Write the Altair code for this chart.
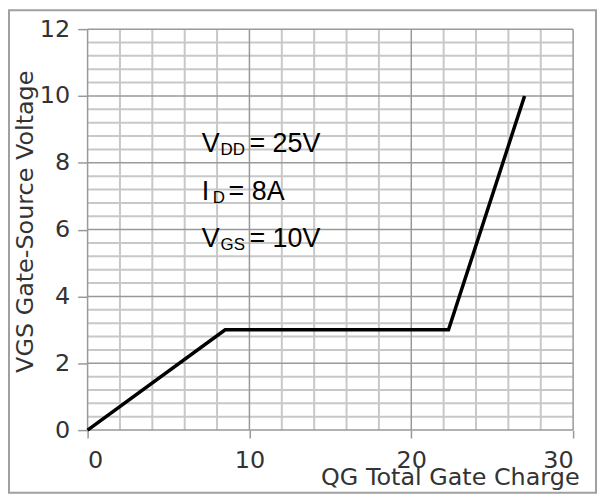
import altair as alt
import pandas as pd

# Curve data (gate charge nC, gate-source voltage V)
qg = [0, 8.5, 22.3, 27.0]
vgs = [0, 3, 3, 10]

# Axis ticks
x_ticks = [0, 10, 20, 30]
y_ticks = [0, 2, 4, 6, 8, 10, 12]

# Grid lines
x_minor = [v for v in range(0, 31, 2) if v % 10 != 0]
y_minor = [round(i * 0.4, 1) for i in range(0, 31) if i % 5 != 0]

# Annotation text pieces
ann_x = 7.05
ann_y = [8.31, 6.88, 5.48]
ann_main = ["V", "I", "V"]
ann_sub = ["DD", "D", "GS"]
ann_rest = ["= 25V", "= 8A", "= 10V"]

W, H = 488, 403
FONT = "DejaVu Sans"
TFONT = "Liberation Sans"

xs = alt.Scale(domain=[0, 30], nice=False, zero=False)
ys = alt.Scale(domain=[0, 12], nice=False, zero=False)

xaxis = alt.Axis(values=x_ticks, grid=False, domain=False, tickSize=8, tickColor="#999999",
                 tickWidth=1.5, labelFont=FONT, labelFontSize=24, labelColor="#333333",
                 labelPadding=11,
                 title="QG Total Gate Charge", titleFont=FONT, titleFontSize=24,
                 titleFontWeight="normal", titleColor="#333333",
                 titleX=494, titleY=55, titleAlign="right", titleBaseline="alphabetic")
yaxis = alt.Axis(values=y_ticks, grid=False, domain=False, tickSize=10, tickColor="#999999",
                 tickWidth=1.5, labelFont=FONT, labelFontSize=24, labelColor="#333333",
                 labelPadding=8,
                 title="VGS   Gate-Source Voltage", titleFont=FONT, titleFontSize=24,
                 titleFontWeight="normal", titleColor="#333333",
                 titleX=-55, titleY=345, titleAlign="left", titleAngle=270,
                 titleBaseline="alphabetic")

def X(field):
    return alt.X(field, type="quantitative", scale=xs, axis=xaxis)

def Y(field):
    return alt.Y(field, type="quantitative", scale=ys, axis=yaxis)

vminor = alt.Chart(pd.DataFrame({"v": x_minor})).mark_rule(color="#c8c8c8", strokeWidth=2).encode(x=X("v"))
hminor = alt.Chart(pd.DataFrame({"v": y_minor})).mark_rule(color="#c8c8c8", strokeWidth=2).encode(y=Y("v"))
vmajor = alt.Chart(pd.DataFrame({"v": x_ticks})).mark_rule(color="#999999", strokeWidth=1.5).encode(x=X("v"))
hmajor = alt.Chart(pd.DataFrame({"v": y_ticks})).mark_rule(color="#999999", strokeWidth=1.5).encode(y=Y("v"))

curve = alt.Chart(pd.DataFrame({"q": qg, "v": vgs})).mark_line(
    color="black", strokeWidth=3.5, strokeJoin="miter").encode(x=X("q"), y=Y("v"))

ann_df = pd.DataFrame({"x": [ann_x] * 3, "y": ann_y, "main": ann_main,
                       "sub": ann_sub, "rest": ann_rest})
sub_dx = [19, 11, 19]
rest_dx = [48, 27, 48]
texts = []
for i in range(3):
    row = ann_df.iloc[[i]]
    base = alt.Chart(row)
    texts.append(base.mark_text(align="left", baseline="alphabetic", font=TFONT,
                                fontSize=27, color="#000000").encode(x=X("x"), y=Y("y"), text="main:N"))
    texts.append(base.mark_text(align="left", baseline="alphabetic", font=TFONT,
                                fontSize=17, color="#000000", dx=sub_dx[i], dy=3).encode(
        x=X("x"), y=Y("y"), text="sub:N"))
    texts.append(base.mark_text(align="left", baseline="alphabetic", font=TFONT,
                                fontSize=27, color="#000000", dx=rest_dx[i]).encode(
        x=X("x"), y=Y("y"), text="rest:N"))

frame = alt.Chart(pd.DataFrame({"a": [0]})).mark_rect(
    fill=None, stroke="#a0a0a0", strokeWidth=2, clip=False).encode(
    x=alt.value(-79), x2=alt.value(511), y=alt.value(-19), y2=alt.value(466))

chart = alt.layer(vminor, hminor, vmajor, hmajor, curve, *texts, frame).properties(
    width=W, height=H,
    autosize=alt.AutoSizeParams(type="none"),
    padding={"left": 80, "top": 20, "right": 24, "bottom": 65},
).configure_view(stroke=None)

chart.save("out.html", embed_options={"renderer": "svg", "actions": False})
